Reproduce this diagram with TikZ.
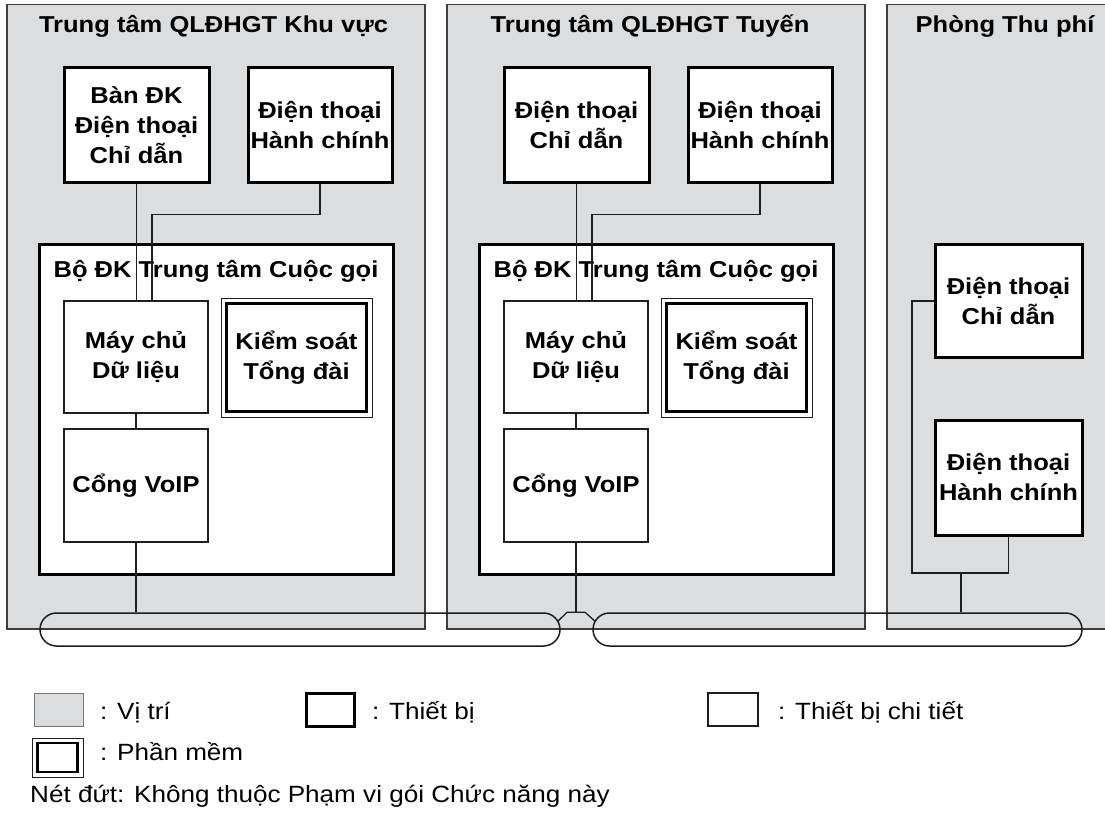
\documentclass[tikz,border=0pt]{standalone}
\usepackage{fontspec}
\setmainfont{Liberation Sans}[FakeStretch=1.11]
\usetikzlibrary{calc}
\definecolor{zonefill}{RGB}{220,221,223}
\definecolor{zoneline}{RGB}{60,60,60}
\definecolor{wire}{RGB}{30,30,30}
\newcommand{\boxfont}{\fontsize{23}{30}\selectfont\bfseries}
\tikzset{
  zone/.style={fill=zonefill, draw=zoneline, line width=1.2pt},
  zonetitle/.style={anchor=base, inner sep=0pt, font=\boxfont},
  devbox/.style={draw=black, line width=3pt, fill=white, align=center, inner sep=0pt, font=\boxfont},
  partbox/.style={draw=wire, line width=1.2pt, fill=white, align=center, inner sep=0pt, font=\boxfont},
  swouter/.style={draw=wire, line width=1pt, fill=white, inner sep=0pt},
  swinner/.style={draw=black, line width=2.5pt, fill=white, align=center, inner sep=0pt, font=\boxfont},
  wirepath/.style={draw=wire, line width=1.3pt},
  busline/.style={draw=wire, line width=1.5pt, rounded corners=16.5pt, inner sep=0pt, minimum height=33pt},
  legendtext/.style={anchor=base west, inner sep=0pt, font=\fontsize{23.5}{28}\selectfont},
}
\begin{document}
\begin{tikzpicture}[x=1pt, y=-1pt]
\useasboundingbox (0,0) rectangle (1105,818);
\clip (0,0) rectangle (1105,818);

% ---- zones ----
\path[zone] (7,4.5) rectangle (425,629);
\path[zone] (447,4.5) rectangle (865,629);
\path[zone] (887,4.5) rectangle (1130,629);

\node[zonetitle] (t1) at (213.5,33) {Trung tâm QLĐHGT Khu vực};
\node[zonetitle] (t2) at (650,33) {Trung tâm QLĐHGT Tuyến};
\node[zonetitle] (t3) at (1005,33) {Phòng Thu phí};

% ---- regional centre ----
\node[devbox, minimum width=145pt, minimum height=115pt] (desk1) at (136.5,125.5) {Bàn ĐK\\Điện thoại\\Chỉ dẫn};
\node[devbox, minimum width=144pt, minimum height=115pt] (adm1) at (320,125.5) {Điện thoại\\Hành chính};
\node[devbox, minimum width=354pt, minimum height=329pt] (cc1) at (216,409.5) {};
\node[zonetitle] (cct1) at (216,277) {Bộ ĐK Trung tâm Cuộc gọi};
\node[partbox, minimum width=144pt, minimum height=112pt] (srv1) at (136,357) {Máy chủ\\Dữ liệu};
\node[partbox, minimum width=144pt, minimum height=113pt] (gw1) at (136,485.5) {Cổng VoIP};
\node[swouter, minimum width=151pt, minimum height=119pt] (kso1) at (296.5,357.5) {};
\node[swinner, minimum width=140pt, minimum height=108pt] (ks1) at (296.5,357.5) {Kiểm soát\\Tổng đài};

% ---- line centre ----
\node[devbox, minimum width=145pt, minimum height=115pt] (desk2) at (576.5,125.5) {Điện thoại\\Chỉ dẫn};
\node[devbox, minimum width=144pt, minimum height=115pt] (adm2) at (760,125.5) {Điện thoại\\Hành chính};
\node[devbox, minimum width=354pt, minimum height=329pt] (cc2) at (656,409.5) {};
\node[zonetitle] (cct2) at (656,277) {Bộ ĐK Trung tâm Cuộc gọi};
\node[partbox, minimum width=144pt, minimum height=112pt] (srv2) at (576,357) {Máy chủ\\Dữ liệu};
\node[partbox, minimum width=144pt, minimum height=113pt] (gw2) at (576,485.5) {Cổng VoIP};
\node[swouter, minimum width=151pt, minimum height=119pt] (kso2) at (736.5,357.5) {};
\node[swinner, minimum width=140pt, minimum height=108pt] (ks2) at (736.5,357.5) {Kiểm soát\\Tổng đài};

% ---- toll office ----
\node[devbox, minimum width=147pt, minimum height=112pt] (ph3a) at (1008.5,301) {Điện thoại\\Chỉ dẫn};
\node[devbox, minimum width=147pt, minimum height=115pt] (ph3b) at (1008.5,477.5) {Điện thoại\\Hành chính};

% ---- network bus ----
\node[busline, minimum width=520pt] (busL) at (300,629.5) {};
\node[busline, minimum width=489pt] (busR) at (837.5,629.5) {};

% ---- wiring ----
\draw[wirepath] (desk1.south) -- (desk1.south |- srv1.north);
\draw[wirepath] (adm1.south) -- ++(0,30) -| ([xshift=16pt]srv1.north);
\draw[wirepath] (srv1.south) -- (gw1.north);
\draw[wirepath] (gw1.south) -- (gw1.south |- busL.north);

\draw[wirepath] (desk2.south) -- (desk2.south |- srv2.north);
\draw[wirepath] (adm2.south) -- ++(0,30) -| ([xshift=16pt]srv2.north);
\draw[wirepath] (srv2.south) -- (gw2.north);
\coordinate (br) at (gw2.south |- busL.north);
\draw[wirepath] (gw2.south) -- (br);
\draw[wirepath] (557.8,621.3) -- ([xshift=-9pt]br) -- ([xshift=9pt]br) -- (595.2,621.3);

\coordinate (loop3) at (912,573);
\coordinate (tap3) at (961,573);
\draw[wirepath] (ph3a.west) -| (loop3) -| (ph3b.south);
\draw[wirepath] (tap3) -- (tap3 |- busR.north);

% ---- legend ----
\node[fill=zonefill, draw=zoneline!70, line width=1pt, minimum width=49pt, minimum height=33pt, inner sep=0pt] (lgzone) at (58.5,709.5) {};
\node[legendtext] (lgzonet) at (100,719) {: Vị trí};
\node[draw=black, line width=3pt, fill=white, minimum width=48pt, minimum height=33pt, inner sep=0pt] (lgdev) at (330,709.5) {};
\node[legendtext] (lgdevt) at (372,719) {: Thiết bị};
\node[draw=wire, line width=1.2pt, fill=white, minimum width=50pt, minimum height=33pt, inner sep=0pt] (lgpart) at (733,709.5) {};
\node[legendtext] (lgpartt) at (778,719) {: Thiết bị chi tiết};
\node[swouter, minimum width=51pt, minimum height=39pt] (lgswo) at (57.5,757.5) {};
\node[draw=black, line width=2.5pt, fill=white, minimum width=40pt, minimum height=29pt, inner sep=0pt] (lgsw) at (57.5,757.5) {};
\node[legendtext] (lgswt) at (100,760) {: Phần mềm};
\node[legendtext] (lgnote) at (30,802) {Nét đứt: Không thuộc Phạm vi gói Chức năng này};
\end{tikzpicture}
\end{document}
